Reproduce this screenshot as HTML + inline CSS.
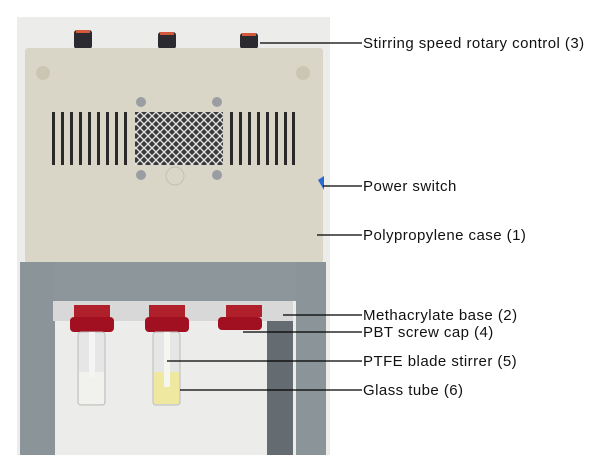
<!DOCTYPE html>
<html><head><style>
body{margin:0;width:605px;height:470px;background:#fff;overflow:hidden}
svg{display:block}
text{font-family:"Liberation Sans",sans-serif;font-size:15px;letter-spacing:0.45px;fill:#111}
</style></head><body>
<svg width="605" height="470" viewBox="0 0 605 470">
<defs>
<pattern id="mesh" width="8" height="8" patternUnits="userSpaceOnUse">
<rect width="8" height="8" fill="#3a3a3a"/>
<path d="M0 4 L4 0 L8 4 L4 8 Z" fill="none" stroke="#e8e8e8" stroke-width="1.3"/>
</pattern>
</defs>
<rect x="17" y="17" width="313" height="438" fill="#ececea"/>
<g fill="#2a2a30">
<rect x="74" y="30" width="18" height="19" rx="3"/>
<rect x="158" y="32" width="18" height="17" rx="3"/>
<rect x="240" y="33" width="18" height="16" rx="3"/>
</g>
<g fill="#d4583a"><rect x="76" y="30" width="14" height="3"/><rect x="160" y="32" width="14" height="3"/><rect x="242" y="33" width="14" height="3"/></g>
<rect x="25" y="48" width="298" height="215" rx="3" fill="#d9d6c8"/>
<circle cx="43" cy="73" r="7" fill="#cbc6b4"/><circle cx="303" cy="73" r="7" fill="#cbc6b4"/>
<g fill="#2a2a2a">
<rect x="52" y="112" width="3" height="53"/><rect x="61" y="112" width="3" height="53"/><rect x="70" y="112" width="3" height="53"/><rect x="79" y="112" width="3" height="53"/><rect x="88" y="112" width="3" height="53"/><rect x="97" y="112" width="3" height="53"/><rect x="106" y="112" width="3" height="53"/><rect x="115" y="112" width="3" height="53"/><rect x="124" y="112" width="3" height="53"/>
<rect x="230" y="112" width="3" height="53"/><rect x="239" y="112" width="3" height="53"/><rect x="248" y="112" width="3" height="53"/><rect x="257" y="112" width="3" height="53"/><rect x="266" y="112" width="3" height="53"/><rect x="275" y="112" width="3" height="53"/><rect x="284" y="112" width="3" height="53"/><rect x="292" y="112" width="3" height="53"/>
</g>
<rect x="135" y="112" width="88" height="53" fill="url(#mesh)"/>
<g fill="#9a9ea2"><circle cx="141" cy="102" r="5"/><circle cx="217" cy="102" r="5"/><circle cx="141" cy="175" r="5"/><circle cx="217" cy="175" r="5"/></g>
<circle cx="175" cy="176" r="9" fill="none" stroke="#c4c0b0"/>
<polygon points="318,180 324,176 324,190" fill="#2a6ad0"/>
<rect x="20" y="262" width="306" height="39" fill="#8c969b"/>
<rect x="20" y="262" width="35" height="193" fill="#8a9499"/>
<rect x="296" y="262" width="30" height="193" fill="#8a9499"/>
<rect x="267" y="320" width="26" height="135" fill="#646c71"/>
<rect x="53" y="301" width="240" height="20" fill="#d8d8d8"/>
<g fill="#b0202a">
<rect x="74" y="305" width="36" height="12"/><rect x="149" y="305" width="36" height="12"/><rect x="226" y="305" width="36" height="12"/>
<rect x="70" y="317" width="44" height="15" rx="4" fill="#a01020"/><rect x="145" y="317" width="44" height="15" rx="4" fill="#a01020"/><rect x="218" y="317" width="44" height="13" rx="4" fill="#a01020"/>
</g>
<rect x="78" y="332" width="27" height="73" rx="3" fill="#e6e6e6" stroke="#bbb"/>
<rect x="79" y="372" width="25" height="32" fill="#f1f1ee"/>
<rect x="89" y="332" width="6" height="45" fill="#f4f4f4"/>
<rect x="153" y="332" width="27" height="73" rx="3" fill="#e6e6e6" stroke="#bbb"/>
<rect x="154" y="372" width="25" height="32" fill="#eee8a0"/>
<rect x="164" y="332" width="6" height="55" fill="#f6f6f0"/>
<g stroke="#000" stroke-width="1.3">
<line x1="260" y1="43" x2="362" y2="43"/>
<line x1="323" y1="186" x2="362" y2="186"/>
<line x1="317" y1="235" x2="362" y2="235"/>
<line x1="283" y1="315" x2="362" y2="315"/>
<line x1="243" y1="332" x2="362" y2="332"/>
<line x1="167" y1="361" x2="362" y2="361"/>
<line x1="180" y1="390" x2="362" y2="390"/>
</g>
<text x="363" y="48">Stirring speed rotary control (3)</text>
<text x="363" y="191">Power switch</text>
<text x="363" y="240">Polypropylene case (1)</text>
<text x="363" y="320">Methacrylate base (2)</text>
<text x="363" y="337">PBT screw cap (4)</text>
<text x="363" y="366">PTFE blade stirrer (5)</text>
<text x="363" y="395">Glass tube (6)</text>
</svg>
</body></html>
